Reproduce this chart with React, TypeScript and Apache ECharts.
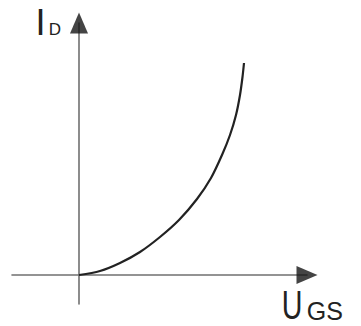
import React, { useEffect, useRef } from "react";
import * as echarts from "echarts";

// Transfer characteristic I_D vs U_GS (arbitrary units)
const ugsValues = [0, 21, 41, 61, 81, 100, 118, 132, 143, 151, 157, 161, 163.5, 165];
const idValues = [0, 4, 12, 23, 38, 55, 76, 97, 120, 140, 160, 180, 198, 212];
const xRange = [-67, 228];
const yRange = [-29, 252];

export default function App() {
  const ref = useRef<HTMLDivElement>(null);
  useEffect(() => {
    if (!ref.current) return;
    const chart = echarts.init(ref.current, undefined, { renderer: "svg" });
    const axisCommon = {
      type: "value" as const,
      axisTick: { show: false },
      axisLabel: { show: false },
      splitLine: { show: false },
      axisLine: {
        show: true,
        onZero: true,
        lineStyle: { color: "#707070", width: 1.6 },
      },
    };
    chart.setOption({
      animation: false,
      backgroundColor: "#ffffff",
      grid: { left: 12, right: 54, top: 23, bottom: 22 },
      xAxis: { ...axisCommon, min: xRange[0], max: xRange[1] },
      yAxis: { ...axisCommon, min: yRange[0], max: yRange[1] },
      series: [
        {
          type: "line",
          data: ugsValues.map((x, i) => [x, idValues[i]]),
          smooth: 0.3,
          showSymbol: false,
          lineStyle: { color: "#222", width: 2.2 },
          z: 5,
        },
        {
          type: "scatter",
          clip: false,
          silent: true,
          symbol: "triangle",
          symbolSize: [18, 21],
          itemStyle: { color: "#151515" },
          data: [
            { value: [xRange[1], 0], symbolRotate: -90 },
            { value: [0, yRange[1]], symbolRotate: 0 },
          ],
          z: 6,
        },
      ],
      graphic: [
        {
          type: "text",
          x: 35.6,
          y: 22,
          style: { text: "I", font: "36px 'Liberation Sans', Arial, sans-serif", fill: "#222", verticalAlign: "middle", align: "left" },
        },
        {
          type: "text",
          x: 48.7,
          y: 29,
          style: { text: "D", font: "17px 'Liberation Sans', Arial, sans-serif", fill: "#222", verticalAlign: "middle", align: "left" },
        },
        {
          type: "text",
          x: 281.7,
          y: 305,
          scaleX: 0.7,
          style: { text: "U", font: "41px 'Liberation Sans', Arial, sans-serif", fill: "#222", verticalAlign: "middle", align: "left" },
        },
        {
          type: "text",
          x: 306.8,
          y: 311,
          style: { text: "GS", font: "25px 'Liberation Sans', Arial, sans-serif", fill: "#222", verticalAlign: "middle", align: "left" },
        },
      ],
    });
    return () => chart.dispose();
  }, []);
  return <div ref={ref} style={{ width: 361, height: 326, position: "absolute", left: 0, top: 0 }} />;
}
